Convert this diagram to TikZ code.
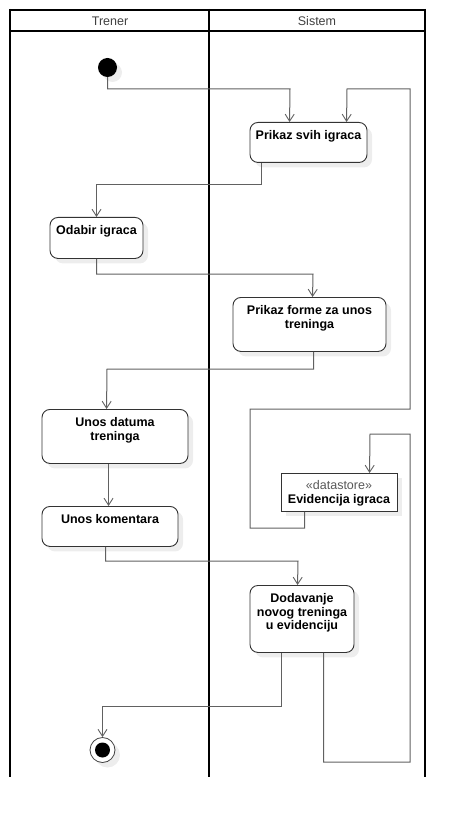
\documentclass[tikz,border=0pt]{standalone}
\usepackage{fontspec}
\setmainfont{Liberation Sans}
\usetikzlibrary{arrows.meta,shadows}
\begin{document}
\begin{tikzpicture}[x=1pt,y=-1pt,
  lanerule/.style={draw=black, line width=2pt},
  lanehead/.style={font=\fontsize{12.5}{14}\selectfont, text=black!75, inner sep=0pt},
  flow/.style={draw=black!62, line width=1pt,
    -{Straight Barb[length=7pt,width=9pt,line width=0.9pt]}},
  softshadow/.style={drop shadow={shadow xshift=5pt, shadow yshift=-5pt,
    fill=black!7, opacity=1}},
  actbox/.style={draw=black!80, line width=0.9pt, rounded corners=8pt,
    fill=white, softshadow, anchor=north, align=center,
    font=\fontsize{12.5}{13.7}\selectfont\bfseries,
    inner xsep=3pt, inner ysep=0pt},
  storebox/.style={draw=black!80, line width=0.9pt, fill=white, softshadow,
    anchor=north, align=center,
    font=\fontsize{12.5}{13.7}\selectfont\bfseries,
    inner xsep=3pt, inner ysep=0pt},
  initnode/.style={circle, fill=black, minimum size=19pt, inner sep=0pt, softshadow},
  finalnode/.style={circle, draw=black!75, line width=0.8pt, fill=white,
    minimum size=25pt, inner sep=0pt, softshadow}
]
\useasboundingbox (0,0) rectangle (465,818);

% swimlanes
\draw[lanerule] (10,10) -- (425,10);
\draw[lanerule] (10,31) -- (425,31);
\draw[draw=black, line width=1.5pt] (10,9) -- (10,777);
\draw[draw=black, line width=2.5pt] (209,9) -- (209,777);
\draw[lanerule] (425,9) -- (425,777);
\node[lanehead] (hTrener) at (110,21) {Trener};
\node[lanehead] (hSistem) at (317,21) {Sistem};

% activities (text height reaches from the box top to the last baseline)
\node[initnode] (start) at (107.5,67.5) {};
\node[actbox, minimum width=117pt, text height=17pt, text depth=23pt] (p1) at (308.5,122) {Prikaz svih igraca};
\node[actbox, minimum width=93pt, text height=17.5pt, text depth=23.5pt] (p2) at (96.5,217) {Odabir igraca};
\node[actbox, minimum width=153pt, text height=30.7pt, text depth=23.3pt] (p3) at (309.5,297) {Prikaz forme za unos\\treninga};
\node[actbox, minimum width=146pt, text height=30.7pt, text depth=23.3pt] (p4) at (115,409) {Unos datuma\\treninga};
\node[actbox, minimum width=136pt, text height=17pt, text depth=23pt] (p5) at (110,506) {Unos komentara};
\node[actbox, minimum width=104pt, text height=44.4pt, text depth=22.6pt] (p6) at (302,585) {Dodavanje\\novog treninga\\u evidenciju};
\node[storebox, minimum width=116pt, text height=29.7pt, text depth=8.3pt] (ds) at (339,473)
  {{\mdseries\color{black!65}«datastore»}\\Evidencija igraca};
\node[finalnode] (end) at (102.5,750) {};
\fill[black] (end.center) circle (7.5pt);

% control flows
\draw[flow] (start.south) |- (290,89) -- ([xshift=40pt]p1.north west);
\draw[flow] ([xshift=12pt]p1.south west) |- (96.5,185) -- (p2.north);
\draw[flow] (p2.south) |- (313,274) -- ([xshift=80pt]p3.north west);
\draw[flow] ([xshift=81pt]p3.south west) |- (107,369) -- ([xshift=65pt]p4.north west);
\draw[flow] ([xshift=67pt]p4.south west) -- ([xshift=67pt]p5.north west);
\draw[flow] ([xshift=64pt]p5.south west) |- (298,561) -- ([xshift=48pt]p6.north west);
\draw[flow] ([xshift=32pt]p6.south west) |- (102.5,706) -- (end.north);
\draw[flow] ([xshift=74pt]p6.south west) |- (410,762) |- (370,434) -- ([xshift=89pt]ds.north west);
\draw[flow] ([xshift=24pt]ds.south west) |- (250,528) |- (410,409) |- (347,89) -- ([xshift=97pt]p1.north west);
\end{tikzpicture}
\end{document}
